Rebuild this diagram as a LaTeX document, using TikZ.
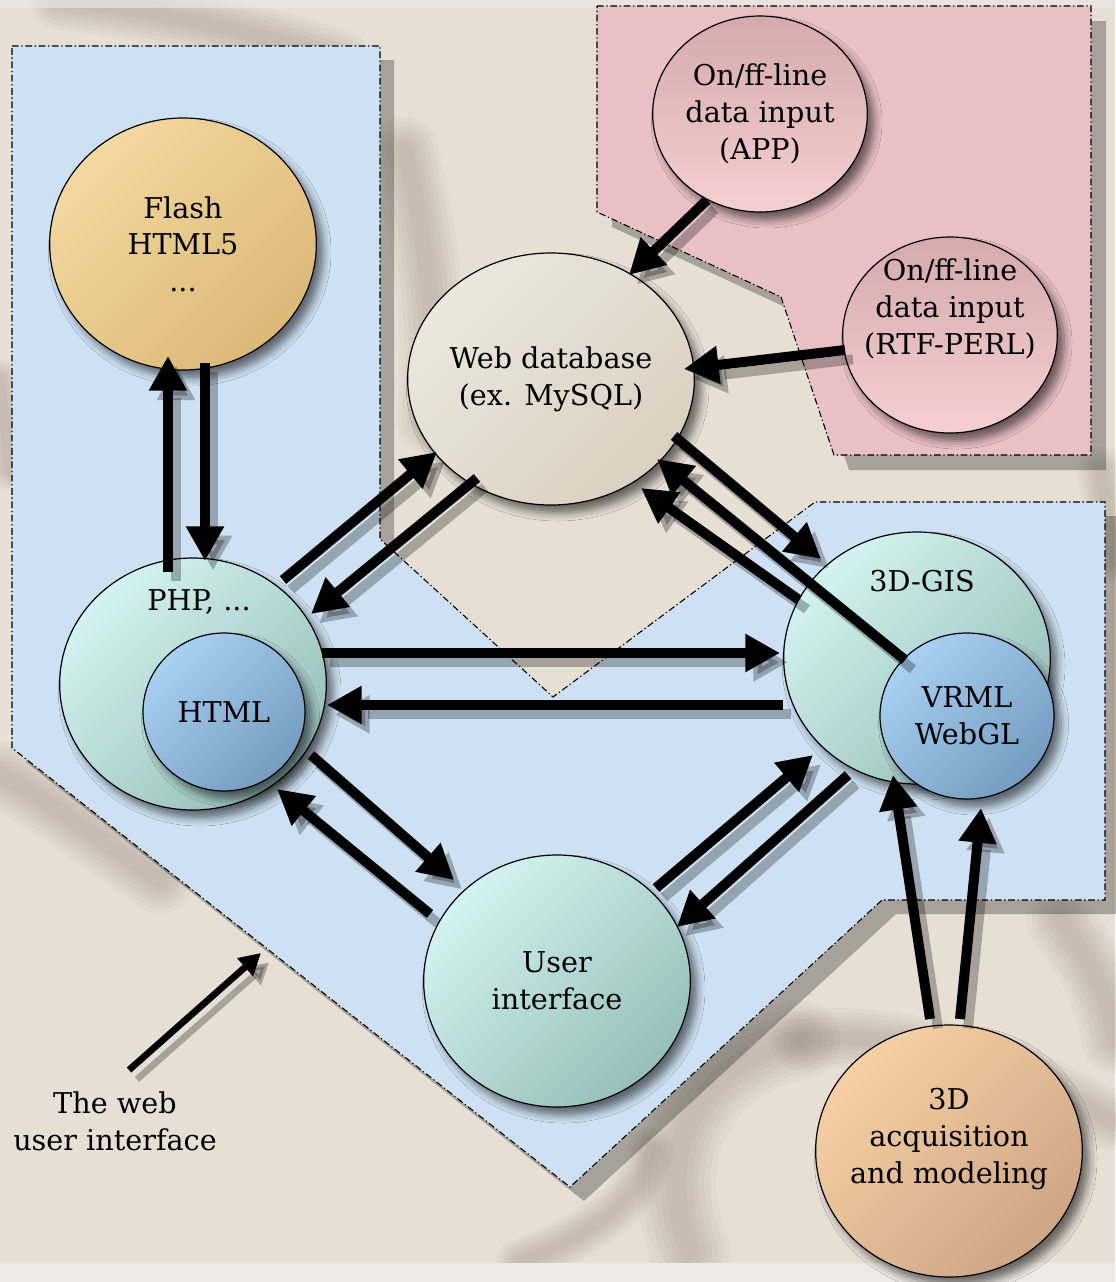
\documentclass[tikz,border=0pt]{standalone}
\usepackage{fontspec}
\setmainfont{DejaVu Serif}
\usetikzlibrary{arrows.meta,shapes.geometric,shadows.blur,calc}
\definecolor{bgc}{RGB}{231,222,212}
\definecolor{smc}{RGB}{100,88,78}
\definecolor{bluereg}{RGB}{206,225,244}
\definecolor{pinkreg}{RGB}{233,192,195}
\definecolor{tealA}{RGB}{210,243,241}
\definecolor{tealB}{RGB}{150,190,186}
\definecolor{blueA}{RGB}{168,208,242}
\definecolor{blueB}{RGB}{118,155,194}
\definecolor{tanA}{RGB}{243,216,160}
\definecolor{tanB}{RGB}{220,184,118}
\definecolor{dbA}{RGB}{236,230,220}
\definecolor{dbB}{RGB}{218,208,194}
\definecolor{pinkA}{RGB}{212,170,172}
\definecolor{pinkB}{RGB}{245,207,209}
\definecolor{orA}{RGB}{246,208,164}
\definecolor{orB}{RGB}{206,165,133}
\definecolor{bandc}{RGB}{236,233,230}
\newcommand\diafont{\fontsize{21.5pt}{27.5pt}\selectfont}
\newcommand\smear[2]{%
  \foreach \f in {1.0,0.85,0.7,0.55,0.4,0.25}{%
    \draw[smc, line cap=round, line join=round, line width=\f*#1pt, opacity=.045] #2;}}
\newcommand\dflow[3][arr]{%
  \draw[#1, draw=black, opacity=.27, transform canvas={shift={(6pt,-7pt)}}] #2 -- #3;
  \draw[#1] #2 -- #3;}
\tikzset{
  circ/.style={ellipse, draw=black, line width=0.9pt, inner sep=0pt, align=center, font=\diafont,
    blur shadow={shadow xshift=5pt, shadow yshift=-6pt, shadow blur radius=6pt, shadow opacity=55}},
  bigc/.style={circ, minimum width=200pt, minimum height=189pt},
  pinkc/.style={circ, minimum width=161pt, minimum height=147pt, top color=pinkA, bottom color=pinkB},
  tealsh/.style={top color=tealA, bottom color=tealB, shading angle=45},
  bluesh/.style={top color=blueA, bottom color=blueB, shading angle=45},
  tansh/.style={top color=tanA, bottom color=tanB, shading angle=45},
  dbsh/.style={top color=dbA, bottom color=dbB, shading angle=45},
  orsh/.style={top color=orA, bottom color=orB, shading angle=45},
  txt/.style={font=\diafont, align=center, inner sep=0pt},
  region/.style={draw=black, line width=0.8pt, dash pattern=on 5pt off 2pt on 1pt off 2pt},
  regshadow/.style={fill=black, opacity=.27},
  arr/.style={line width=7.5pt, -{Triangle[length=26pt,width=27pt]}},
  thinarr/.style={line width=5pt, -{Triangle[length=16pt,width=17pt]}}
}
\begin{document}
\begin{tikzpicture}[x=0.75pt,y=-0.75pt]
\useasboundingbox (0,0) rectangle (1115,1282);
\fill[bgc] (0,0) rectangle (1115,1282);
% background smudges
\smear{45}{(60,0) .. controls (150,10) and (250,30) .. (340,60)}
\smear{50}{(405,150) .. controls (425,240) and (440,330) .. (430,420)}
\smear{50}{(0,775) .. controls (50,800) and (100,840) .. (160,880)}
\smear{30}{(0,380) -- (10,470)}
\smear{60}{(690,1250) .. controls (650,1150) and (700,1060) .. (800,1040)}
\smear{45}{(800,1040) .. controls (900,1030) and (1000,1060) .. (1110,1120)}
\smear{50}{(1060,920) .. controls (1090,960) and (1110,1000) .. (1115,1040)}
\smear{35}{(1100,470) -- (1115,560)}
\smear{35}{(520,1262) .. controls (600,1230) and (640,1200) .. (650,1150)}
\fill[bandc] (0,1263) rectangle (1115,1282);
\fill[bandc,opacity=.6] (0,0) rectangle (1115,8);
% regions
\fill[regshadow, shift={(15,15)}] (597,6) -- (1091,6) -- (1091,455) -- (834,455) -- (781,297) -- (597,212) -- cycle;
\filldraw[region, fill=pinkreg] (597,6) -- (1091,6) -- (1091,455) -- (834,455) -- (781,297) -- (597,212) -- cycle;
\fill[regshadow, shift={(14,14)}] (12,46) -- (380,46) -- (380,539) -- (553,697) -- (815,502) -- (1105,502) -- (1105,900) -- (882,900) -- (570,1187) -- (12,748) -- cycle;
\filldraw[region, fill=bluereg] (12,46) -- (380,46) -- (380,539) -- (553,697) -- (815,502) -- (1105,502) -- (1105,900) -- (882,900) -- (570,1187) -- (12,748) -- cycle;
% nodes
\node[bigc, tansh] (flash) at (183,244) {Flash\\HTML5\\...};
\node[bigc, dbsh] (db) at (551,379) {Web database\\(ex. MySQL)};
\node[pinkc] (app) at (760,114) {On/ff-line\\data input\\(APP)};
\node[pinkc] (rtf) at (950,335) {};
\node[txt] (rtftext) at (950,309) {On/ff-line\\data input\\(RTF-PERL)};
\node[bigc, tealsh] (php) at (193,684) {};
\node[txt] (phptext) at (199,602) {PHP, ...};
\node[circ, bluesh, minimum width=121.5pt, minimum height=118.5pt] (html) at (224,712) {HTML};
\node[bigc, tealsh] (gis) at (917,658) {};
\node[txt] (gistext) at (922,581) {3D-GIS};
\node[circ, bluesh, minimum width=130.5pt, minimum height=124.5pt] (vrml) at (967,716) {VRML\\WebGL};
\node[bigc, tealsh] (ui) at (557,981) {User\\interface};
\node[bigc, orsh] (acq) at (949,1151) {};
\node[txt] (acqtext) at (949,1139) {3D\\acquisition\\and modeling};
\node[txt] (lbl) at (115,1121) {The web\\user interface};
\coordinate (uiedge) at (261,953);
% connectors
\dflow{($(php)+(-25,-112)$)}{($(flash)+(-15,112)$)}
\dflow{($(flash)+(22,119)$)}{($(php)+(12,-123)$)}
\dflow{($(php)+(90,-104)$)}{($(db)+(-114,73)$)}
\dflow{($(db)+(-74,99)$)}{($(php)+(118,-70)$)}
\dflow{($(app)+(-53,86)$)}{($(db)+(78,-104)$)}
\dflow{($(rtf)+(-105,15)$)}{($(db)+(133,-10)$)}
\dflow{($(db)+(123,57)$)}{($(gis)+(-96,-99)$)}
\dflow{($(vrml)+(-62,-56)$)}{($(db)+(106,80)$)}
\dflow{($(gis)+(-118,-58)$)}{($(db)+(90,109)$)}
\dflow{($(php)+(129,-31)$)}{($(gis)+(-137,-5)$)}
\dflow{($(gis)+(-134,47)$)}{($(php)+(134,21)$)}
\dflow{($(php)+(118,71)$)}{($(ui)+(-103,-101)$)}
\dflow{($(ui)+(-127,-67)$)}{($(php)+(84,105)$)}
\dflow{($(ui)+(99,-93)$)}{($(gis)+(-104,97)$)}
\dflow{($(gis)+(-69,117)$)}{($(ui)+(120,-54)$)}
\dflow{($(acq)+(-19,-132)$)}{($(gis)+(-24,117)$)}
\dflow{($(acq)+(11,-132)$)}{($(vrml)+(14,92)$)}
\dflow[thinarr]{($(lbl)+(14,-51)$)}{(uiedge)}
\end{tikzpicture}
\end{document}
